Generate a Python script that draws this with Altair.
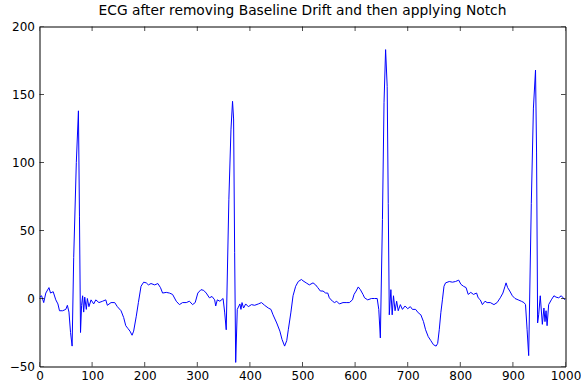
import altair as alt
import pandas as pd

# ECG samples (sample index, amplitude)
xs = [0, 4, 8, 12, 18, 21, 26, 31, 35, 38, 44, 50, 53, 56, 59, 62, 65, 70, 74, 76, 78,
      80, 82, 84, 86, 89, 91, 94, 98, 103, 107, 113, 120, 126, 129, 136, 143, 148, 155,
      160, 164, 168, 172, 176, 179, 184, 188, 193, 198, 203, 207, 212, 219, 225, 230,
      234, 241, 247, 253, 260, 266, 272, 279, 285, 291, 296, 301, 307, 312, 317, 323,
      328, 333, 335, 338, 343, 349, 352, 355, 360, 364, 367, 369, 371, 373, 376, 381,
      383, 385, 388, 392, 397, 403, 409, 416, 422, 428, 435, 440, 444, 451, 457, 461,
      466, 470, 473, 478, 482, 487, 492, 498, 501, 507, 513, 520, 525, 529, 534, 539,
      544, 548, 551, 557, 561, 565, 570, 577, 583, 589, 595, 598, 602, 606, 610, 615,
      618, 624, 631, 637, 642, 645, 648, 652, 655, 658, 661, 663, 665, 668, 670.5, 673,
      676, 679, 682, 686, 690, 695, 700, 705, 709, 715, 720, 725, 730, 734, 739, 744,
      749, 754, 757, 760, 763, 766, 769, 772, 779, 785, 791, 797, 801, 806, 811, 815,
      820, 825, 831, 834, 838, 842, 847, 851, 857, 864, 870, 876, 881, 885, 887, 890,
      894, 899, 904, 910, 916, 921, 924, 927, 930, 935, 939, 943, 945, 947, 949, 952,
      956, 959, 961, 963, 965, 968, 973, 978, 982, 987, 992, 999]
ys = [1, 2, -3, 4, 8, 4, 5, -1, -4, -9, -9, -8, -5, -10, -25, -35, 30, 100, 138, 60, -25,
      -5, 2, -10, 1, -8, 0, -6, -1, -4, -1, -3, -2, -1, -5, -3, -3, -6, -9,
      -14, -20, -22, -24, -27, -24, -13, -3, 9, 12, 11.5, 10, 11, 10, 11, 8,
      4, 4.5, 4, 3, -2, -4.5, -3, -3, -2, -4.5, -3, 4, 6.5, 6, 4, 0.5,
      1.5, -1, -5.5, -1, -2, 0, -10, -23, 73, 124, 145, 132, 34, -47, -8, -4,
      -8, -3, -7, -4, -6, -4.5, -5, -4, -3, -5, -7, -8, -12, -18, -24, -30,
      -35, -31, -23, -10, 2, 9, 12.5, 14, 13, 11.5, 10, 11.5, 10, 8, 5.5, 5.5,
      4, 4, 0.5, -2, -3, -2, -4, -3, -3, -3, -1, 3, 5.5, 8.5, 6.5, 3,
      0.5, -1, 0, 0, 0, -8, -29, 58, 144, 183, 156, 70, -12, 6.5, -12, 2,
      -9, -2, -9, -4.5, -8, -5.5, -7.5, -6, -8, -8, -10.5, -12, -17, -23, -28, -31,
      -34, -35, -33, -23, -10.5, -1, 9, 11.5, 12.5, 12, 12.5, 13.5, 10.5, 9, 8, 3,
      4.5, 3, 4, 0.5, -1, -4.5, -2, -3, -3, -4.5, -3, 0.5, 4, 9, 11.5, 8,
      5.5, 2, 0, -1, -2, -3, -4.5, -23, -42, 70, 140, 168, 107, -18, -12, 2,
      -19, -7, -17, -9, -20, -4.5, -1, 2, 1, 0.5, 2, -1]

x_ticks = [0, 100, 200, 300, 400, 500, 600, 700, 800, 900, 1000]
y_ticks = [-50, 0, 50, 100, 150, 200]

df = pd.DataFrame({"x": xs, "y": ys})
xt = pd.DataFrame({"t": x_ticks})
yt = pd.DataFrame({"t": y_ticks})

FONT = "DejaVu Sans"
xscale = alt.Scale(domain=[0, 1000], nice=False, zero=False)
yscale = alt.Scale(domain=[-50, 200], nice=False, zero=False)
xaxis = alt.Axis(values=x_ticks, title=None, tickSize=0, domain=False, grid=False, format="d",
                 labelFont=FONT, labelFontSize=12, labelColor="black",
                 labelPadding=4, labelFlush=False, labelOverlap=False)
yaxis = alt.Axis(values=y_ticks, title=None, tickSize=0, domain=False, grid=False, format="d",
                 labelFont=FONT, labelFontSize=12, labelColor="black",
                 labelPadding=5, labelFlush=False, labelOverlap=False)

line = alt.Chart(df).mark_line(color="#0000FF", strokeWidth=1, clip=True).encode(
    x=alt.X("x:Q", scale=xscale, axis=xaxis),
    y=alt.Y("y:Q", scale=yscale, axis=yaxis),
)

def xtick(yval):
    return alt.Chart(xt).mark_tick(orient="vertical", size=9, thickness=1, color="black",
                                   clip=True).encode(
        x=alt.X("t:Q", scale=xscale, axis=xaxis),
        y=alt.datum(yval, scale=yscale, axis=yaxis),
    )

def ytick(xval):
    return alt.Chart(yt).mark_tick(orient="horizontal", size=9, thickness=1, color="black",
                                   clip=True).encode(
        y=alt.Y("t:Q", scale=yscale, axis=yaxis),
        x=alt.datum(xval, scale=xscale, axis=xaxis),
    )

chart = alt.layer(
    line, xtick(-50), xtick(200), ytick(0), ytick(1000)
).properties(
    width=526,
    height=340,
    background="white",
    title=alt.TitleParams("ECG after removing Baseline Drift and then applying Notch",
                          font=FONT, fontSize=13.8, fontWeight="normal", color="black",
                          offset=3, anchor="middle"),
    autosize=alt.AutoSizeParams(type="none"),
    padding={"left": 39.5, "top": 26.5, "right": 15.5, "bottom": 21.5},
).configure_view(
    stroke="black", strokeWidth=1
)

chart.save("out.html", embed_options={"renderer": "svg", "actions": False})
